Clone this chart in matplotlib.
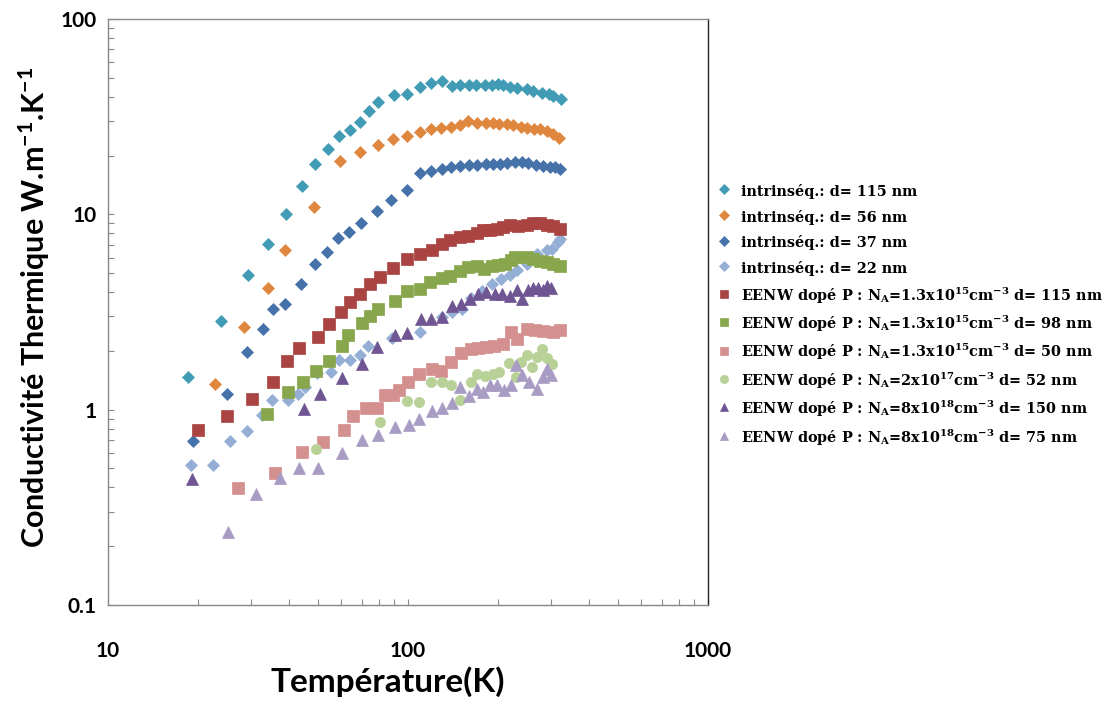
import matplotlib
matplotlib.use("Agg")
import matplotlib.pyplot as plt
from matplotlib.ticker import LogLocator, NullFormatter

plt.rcParams['mathtext.default'] = 'regular'

# ---- data (T in K, k in W/m/K) ----
T_i115 = [18.5, 23.8, 29.2, 34.2, 39.1, 44.2, 49.0, 54.0, 59.0, 64.1, 69.2, 74.1, 79.6,
          89.8, 99, 110, 119, 130, 140, 149, 160, 169, 181, 190, 200, 208, 219, 230,
          249, 262, 279, 294, 305, 323]
k_i115 = [1.47, 2.83, 4.9, 7.06, 10.0, 13.9, 18.2, 21.7, 25.2, 27.1, 29.8, 33.9, 37.4,
          40.6, 41.5, 45.0, 47.3, 48.2, 45.5, 46.0, 46.0, 46.0, 46.0, 46.0, 46.4, 46.0,
          45.0, 44.6, 43.7, 42.9, 42.0, 41.2, 40.4, 38.9]

T_i56 = [22.7, 28.5, 34.1, 38.9, 48.7, 59.3, 69.2, 79.6, 88.9, 99.5, 109.6, 119.0, 128.8,
         139.1, 149.1, 158.9, 170.2, 182, 192.4, 201.6, 213.3, 224.4, 237.5, 248.7, 263,
         275.4, 290, 305, 319.4]
k_i56 = [1.36, 2.65, 4.2, 6.58, 10.9, 18.8, 20.9, 22.7, 24.4, 25.2, 26.5, 27.5, 27.8,
         28.1, 28.7, 30.1, 29.5, 29.2, 29.2, 28.9, 28.9, 28.7, 28.1, 27.8, 27.5, 27.3,
         26.8, 25.9, 24.7]

T_i37 = [19.2, 24.9, 29.0, 32.8, 35.4, 38.9, 44.0, 49.0, 53.6, 58.3, 63.6, 69.6, 79.0,
         88.0, 99.5, 109.6, 119.3, 129.5, 139.1, 149.1, 160.1, 170.2, 182, 192.4, 202.6,
         213.3, 227.3, 239.3, 251.8, 267.1, 282.5, 297.4, 309, 321]
k_i37 = [0.69, 1.20, 1.97, 2.58, 3.28, 3.49, 4.42, 5.58, 6.40, 7.53, 8.13, 9.04, 10.4,
         11.9, 13.3, 16.2, 16.7, 17.1, 17.4, 17.7, 17.9, 17.9, 18.2, 18.2, 18.2, 18.4,
         18.6, 18.6, 18.4, 17.9, 17.7, 17.5, 17.4, 17.1]

T_i22 = [18.9, 22.4, 25.5, 29.0, 32.7, 35.1, 39.9, 42.9, 45.4, 49.9, 55.2, 58.7, 64.1,
         69.3, 73.7, 88.2, 109.6, 129.5, 139.8, 151.0, 161.8, 176.1, 190.1, 204.2, 218.8,
         230.3, 248.7, 268.5, 290, 301.3, 317, 321]
k_i22 = [0.52, 0.52, 0.69, 0.78, 0.94, 1.12, 1.12, 1.21, 1.30, 1.55, 1.56, 1.79, 1.80,
         1.91, 2.13, 2.34, 2.49, 2.98, 3.18, 3.29, 3.73, 4.07, 4.41, 4.67, 4.92, 5.16,
         5.58, 6.28, 6.53, 6.65, 7.25, 7.49]

T_p115 = [19.9, 25.0, 30.1, 35.4, 39.6, 43.4, 50.2, 54.7, 59.7, 64.1, 69.2, 74.7, 80.7,
          88.8, 99.0, 109.6, 120, 129.5, 138, 149.1, 158.9, 169.4, 178.2, 187.7, 197.5,
          207.8, 218.8, 233.2, 248.7, 261.6, 275.4, 290, 305, 321]
k_p115 = [0.79, 0.93, 1.13, 1.39, 1.77, 2.07, 2.35, 2.73, 3.18, 3.55, 3.92, 4.41, 4.77,
          5.31, 5.92, 6.28, 6.58, 7.06, 7.40, 7.63, 7.78, 8.00, 8.32, 8.32, 8.42, 8.65,
          8.86, 8.75, 8.86, 8.99, 8.99, 8.86, 8.75, 8.42]

T_p98 = [33.8, 39.7, 44.8, 49.4, 54.7, 60.4, 63.2, 70.4, 74.7, 79.6, 90.5, 99.5, 109.6,
         118.4, 129.5, 138, 149.1, 158.9, 169.4, 179.2, 190.1, 200, 210.6, 220, 227.3,
         248.7, 261.6, 275.4, 290, 305, 321]
k_p98 = [0.95, 1.23, 1.38, 1.58, 1.77, 2.12, 2.42, 2.77, 3.00, 3.27, 3.59, 4.04, 4.16,
         4.50, 4.71, 4.86, 5.10, 5.36, 5.41, 5.26, 5.41, 5.51, 5.58, 5.85, 6.03, 6.03,
         5.91, 5.80, 5.69, 5.58, 5.47]

T_p50 = [27.2, 36.0, 44.2, 52.2, 61.3, 65.7, 72.4, 78.6, 83.8, 89.3, 93.5, 99.8, 108.7,
         120, 129.1, 138.9, 150, 161.8, 171.6, 181.7, 193.8, 207.8, 220.2, 231.7, 248.7,
         265, 282.5, 303.2, 321]
k_p50 = [0.395, 0.475, 0.61, 0.68, 0.79, 0.925, 1.02, 1.02, 1.19, 1.19, 1.26, 1.38, 1.53,
         1.62, 1.58, 1.75, 1.96, 2.04, 2.08, 2.10, 2.11, 2.16, 2.49, 2.31, 2.60, 2.55,
         2.52, 2.49, 2.56]

T_p52 = [49.4, 80.7, 99.6, 109.1, 118.9, 129.5, 139.3, 149.1, 161.8, 169.4, 180.6, 191.3,
         201.4, 217.4, 228.7, 237.7, 248.7, 258.4, 268.5, 279.1, 290, 301.3]
k_p52 = [0.63, 0.865, 1.11, 1.09, 1.39, 1.39, 1.33, 1.12, 1.39, 1.53, 1.48, 1.53, 1.56,
         1.74, 1.47, 1.75, 1.91, 1.65, 1.85, 2.05, 1.84, 1.71]

T_p150 = [19.1, 45.1, 50.9, 60.3, 70.3, 78.8, 90.2, 99.2, 110.7, 119.1, 129.5, 139.8, 150.5,
          160.6, 170.5, 181.7, 195, 205.3, 219.3, 230.3, 239.3, 251.8, 261.6, 271.8, 281.8,
          290, 300.2]
k_p150 = [0.44, 1.01, 1.21, 1.46, 1.71, 2.09, 2.40, 2.46, 2.90, 2.90, 2.98, 3.38, 3.47,
          3.70, 3.89, 4.00, 3.92, 3.90, 3.84, 4.09, 3.67, 4.11, 4.21, 4.22, 4.11, 4.30, 4.21]

T_p75 = [25.1, 31.1, 37.4, 43.4, 50.2, 60.4, 70.4, 79.6, 90.2, 101.0, 109.1, 120.2, 129.8,
         139.8, 149.6, 160.1, 169.4, 178.2, 187.7, 197.5, 208.4, 220, 229, 239.9, 253.2,
         269.2, 281.2, 290, 300.2]
k_p75 = [0.237, 0.37, 0.445, 0.50, 0.50, 0.60, 0.70, 0.74, 0.82, 0.835, 0.90, 0.99, 1.02,
         1.08, 1.31, 1.18, 1.28, 1.23, 1.33, 1.34, 1.26, 1.34, 1.69, 1.50, 1.39, 1.27,
         1.47, 1.62, 1.50]

labels = [
    'intrinséq.: d= 115 nm',
    'intrinséq.: d= 56 nm',
    'intrinséq.: d= 37 nm',
    'intrinséq.: d= 22 nm',
    'EENW dopé P : N$_A$=1.3x10$^{15}$cm$^{-3}$ d= 115 nm',
    'EENW dopé P : N$_A$=1.3x10$^{15}$cm$^{-3}$ d= 98 nm',
    'EENW dopé P : N$_A$=1.3x10$^{15}$cm$^{-3}$ d= 50 nm',
    'EENW dopé P : N$_A$=2x10$^{17}$cm$^{-3}$ d= 52 nm',
    'EENW dopé P : N$_A$=8x10$^{18}$cm$^{-3}$ d= 150 nm',
    'EENW dopé P : N$_A$=8x10$^{18}$cm$^{-3}$ d= 75 nm',
]

series = [(T_i115, k_i115), (T_i56, k_i56), (T_i37, k_i37), (T_i22, k_i22),
          (T_p115, k_p115), (T_p98, k_p98), (T_p50, k_p50), (T_p52, k_p52),
          (T_p150, k_p150), (T_p75, k_p75)]
colors = ['#429BB4', '#E0873F', '#4672AA', '#94AED6', '#AA4442',
          '#88A64B', '#D4908E', '#B8D197', '#6F5592', '#A89CC4']
markers = ['D', 'D', 'D', 'D', 's', 's', 's', 'o', '^', '^']
sizes = [5.8, 5.8, 5.8, 5.8, 8.0, 8.0, 8.0, 7.4, 8.0, 8.0]

fig = plt.figure(figsize=(11.12, 7.04), dpi=100)
ax = fig.add_axes([0.0971, 0.1406, 0.5396, 0.8324])

for (T, k), c, m, s, lab in zip(series, colors, markers, sizes, labels):
    ax.plot(T, k, linestyle='none', marker=m, markersize=s, color=c,
            markeredgecolor=c, markeredgewidth=0.5, label=lab)

ax.set_xscale('log')
ax.set_yscale('log')
ax.set_xlim(10, 1000)
ax.set_ylim(0.1, 100)

tick_font = dict(family=['Lato', 'DejaVu Sans'], weight='bold', size=15)
ax.set_xticks([10, 100, 1000])
ax.set_xticklabels(['10', '100', '1000'], **tick_font)
ax.set_yticks([0.1, 1, 10, 100])
ax.set_yticklabels(['0.1', '1', '10', '100'], **tick_font)
ax.xaxis.set_minor_locator(LogLocator(base=10, subs=range(2, 10)))
ax.yaxis.set_minor_locator(LogLocator(base=10, subs=range(2, 10)))
ax.xaxis.set_minor_formatter(NullFormatter())
ax.yaxis.set_minor_formatter(NullFormatter())
ax.tick_params(axis='both', which='both', direction='in', color='#888888',
               length=4, width=0.8, top=False, right=False)
ax.tick_params(axis='x', which='major', pad=26)
ax.tick_params(axis='y', which='major', pad=8)

for side in ['left', 'bottom', 'top']:
    ax.spines[side].set_color('#888888')
    ax.spines[side].set_linewidth(1.0)
ax.spines['right'].set_color('#222222')
ax.spines['right'].set_linewidth(1.0)

label_font = dict(family=['Lato', 'DejaVu Sans'], weight='bold')
ax.set_xlabel('Température(K)', fontsize=24, **label_font)
ax.set_ylabel('Conductivité Thermique W.m$^{-1}$.K$^{-1}$', fontsize=22, **label_font)
ax.xaxis.set_label_coords(0.467, -0.105)
ax.yaxis.set_label_coords(-0.093, 0.508)

leg = ax.legend(loc='upper left', bbox_to_anchor=(1.005, 0.731), frameon=False,
                prop=dict(family=['DejaVu Serif'], weight='bold', size=10.4),
                handletextpad=0.65, labelspacing=0.56, handlelength=1.0,
                handleheight=1.5, borderaxespad=0.0, markerscale=0.8)

fig.savefig('out.png', dpi=100)
